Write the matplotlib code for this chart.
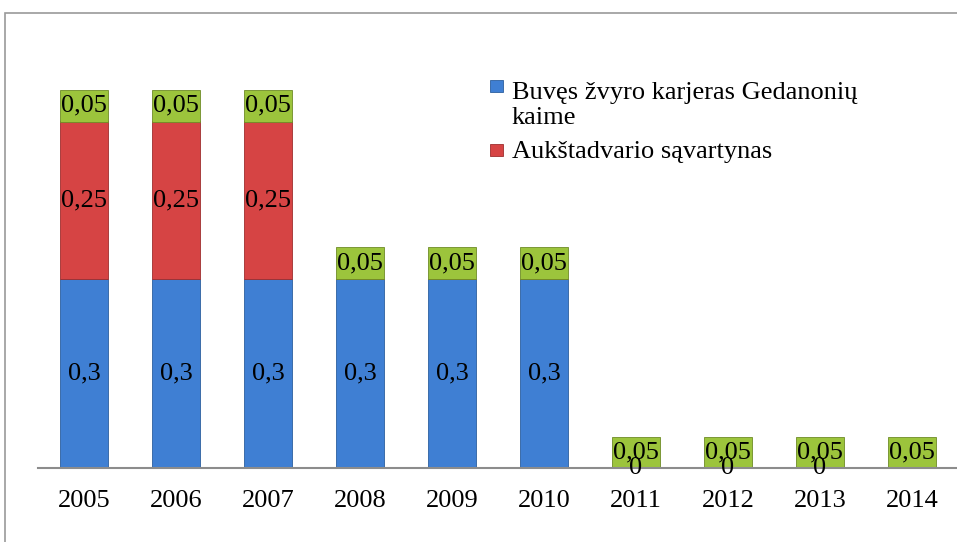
import numpy as np
import matplotlib.pyplot as plt
from matplotlib.patches import Rectangle

years = ['2005', '2006', '2007', '2008', '2009', '2010', '2011', '2012', '2013', '2014']
karjeras = [0.3, 0.3, 0.3, 0.3, 0.3, 0.3, 0, 0, 0, np.nan]
savartynas = [0.25, 0.25, 0.25, np.nan, np.nan, np.nan, np.nan, np.nan, np.nan, np.nan]
green = [0.05, 0.05, 0.05, 0.05, 0.05, 0.05, 0.05, 0.05, 0.05, 0.05]
labels = ['Buvęs žvyro karjeras Gedanonių\nkaime', 'Aukštadvario sąvartynas']

plt.rcParams['font.family'] = ['Liberation Serif', 'DejaVu Serif']

blue_c, blue_e = '#3f7fd3', '#2c5f9e'
red_c, red_e = '#d64444', '#9e2e2e'
green_c, green_e = '#9cc43c', '#6e8c26'

fig = plt.figure(figsize=(9.57, 5.42), dpi=100)
# outer chart frame (cut off on right and bottom)
fig.patches.append(Rectangle((5 / 957, -0.05), 1.0, 1 - 13 / 542 + 0.05,
                             transform=fig.transFigure, fill=False,
                             edgecolor='#9a9a9a', lw=1.2))
ax = fig.add_axes([38 / 957, 74 / 542, 920 / 957, 378 / 542])

x = np.arange(len(years))
w = 0.52
b1 = np.nan_to_num(karjeras)
b2 = b1 + np.nan_to_num(savartynas)

ax.bar(x, b1, w, color=blue_c, edgecolor=blue_e, lw=0.6)
ax.bar(x, np.nan_to_num(savartynas), w, bottom=b1, color=red_c, edgecolor=red_e, lw=0.6)
ax.bar(x, green, w, bottom=b2, color=green_c, edgecolor=green_e, lw=0.6)

fs = 19
for i in range(len(years)):
    if not np.isnan(karjeras[i]):
        ax.text(x[i], karjeras[i] / 2, f'{karjeras[i]:g}'.replace('.', ','),
                ha='center', va='center', fontsize=fs)
    if not np.isnan(savartynas[i]):
        ax.text(x[i], b1[i] + savartynas[i] / 2, f'{savartynas[i]:g}'.replace('.', ','),
                ha='center', va='center', fontsize=fs)
    ax.text(x[i], b2[i] + green[i] / 2, f'{green[i]:g}'.replace('.', ','),
            ha='center', va='center', fontsize=fs)

ax.set_xlim(-0.5, len(years) - 0.5)
ax.set_ylim(0, 0.6)
ax.set_xticks(x)
ax.set_xticklabels(years, fontsize=fs)
ax.tick_params(axis='x', length=0, pad=16)
ax.set_yticks([])
for s in ['top', 'right', 'left']:
    ax.spines[s].set_visible(False)
ax.spines['bottom'].set_color('#8c8c8c')
ax.spines['bottom'].set_linewidth(1.5)

# legend drawn by hand so the marker sits beside the first text line
H = 542
for (ty, my), lab, fc, ec in zip([(93, 86), (152, 150)], labels,
                                 [blue_c, red_c], [blue_e, red_e]):
    fig.patches.append(Rectangle((490 / 957, 1 - (my + 6) / H), 13 / 957, 12 / H,
                                 transform=fig.transFigure, facecolor=fc,
                                 edgecolor=ec, lw=0.6))
    fig.text(512 / 957, 1 - ty / H, lab.split('\n')[0], fontsize=fs, va='center')
    if '\n' in lab:
        fig.text(512 / 957, 1 - (ty + 25) / H, lab.split('\n')[1], fontsize=fs, va='center')

plt.savefig('out.png', dpi=100)
